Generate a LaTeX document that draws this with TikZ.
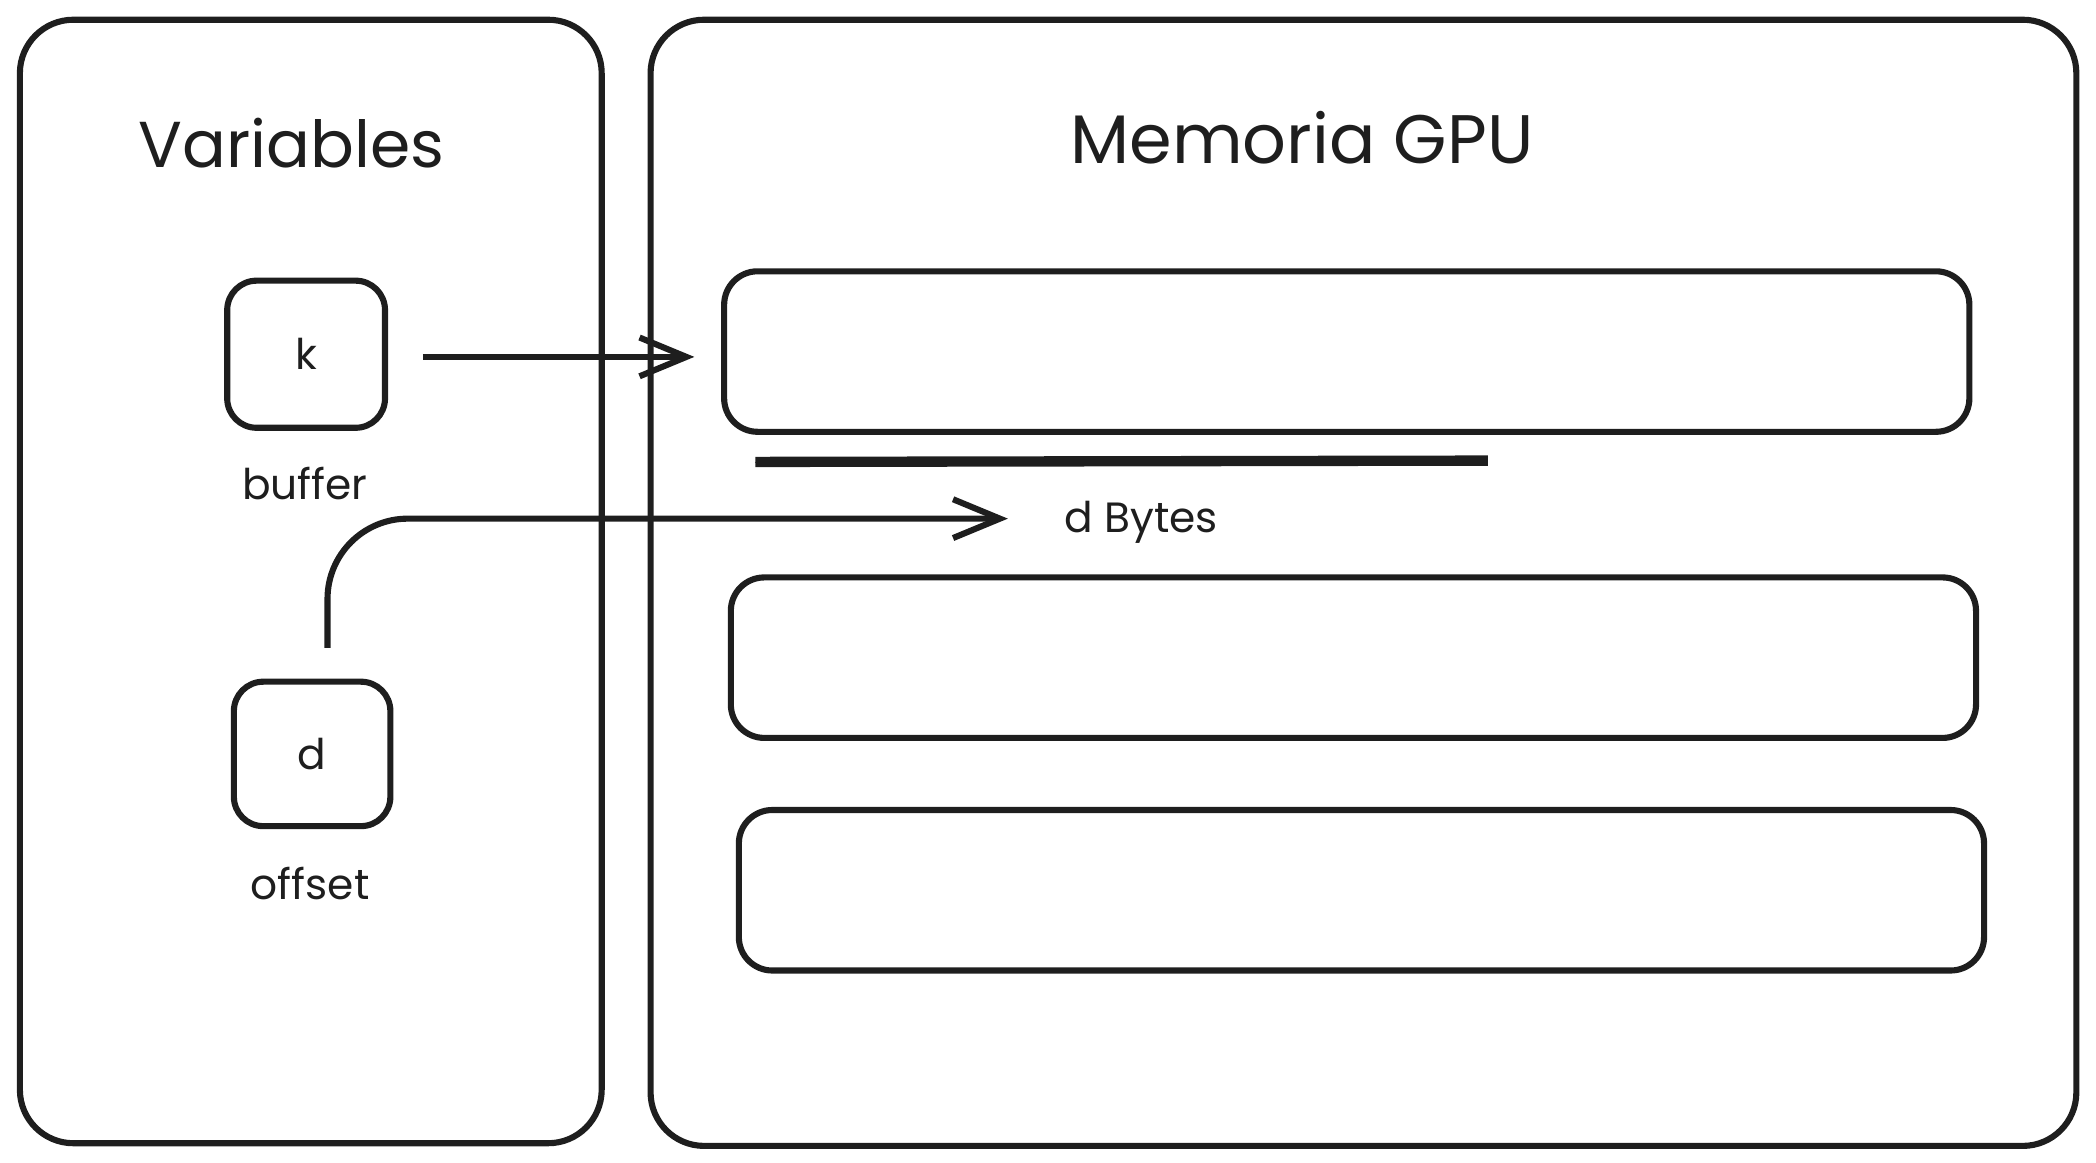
\documentclass[tikz,border=0pt]{standalone}
\usepackage{fontspec}
\setmainfont{Poppins}
\usepackage{tikz}
\usetikzlibrary{arrows.meta}

\definecolor{ink}{HTML}{1E1E1E}
\tikzset{
  every path/.style={color=ink},
  panel/.style={draw=ink,line width=1.3pt,rounded corners=0.4cm,inner sep=0pt},
  varbox/.style={draw=ink,line width=1.3pt,rounded corners=0.22cm,minimum width=1.18cm,minimum height=1.1cm,font=\fontsize{9}{11}\selectfont},
  membox/.style={draw=ink,line width=1.3pt,rounded corners=0.25cm,minimum width=9.31cm,minimum height=1.2cm},
  heading/.style={text=ink,font=\fontsize{13.8}{17}\selectfont},
  lbl/.style={text=ink,font=\fontsize{9}{11}\selectfont},
  ptr/.style={draw=ink,line width=1.3pt,-{Straight Barb[length=0.35cm,width=0.29cm,line width=1.3pt]}}
}

\begin{document}
\begin{tikzpicture}[x=0.01cm,y=-0.01cm]
          \useasboundingbox (0,0) rectangle (1568,870);
          \node[panel,minimum width=4.35cm,minimum height=8.4cm] (vars) at (232.5,435){};
          \node[panel,minimum width=10.66cm,minimum height=8.42cm] (gpu) at (1020,436){};
          \node[heading] (vars_t) at (218,107){Variables};
          \node[heading,font=\fontsize{14.6}{17}\selectfont] (gpu_t) at (974,103){Memoria GPU};
          % variables
          \node[varbox] (k) at (229,265){k};
          \node[lbl] (k_l) at (228,362){buffer};
          \node[varbox,minimum width=1.17cm,minimum height=1.08cm] (d) at (233.5,564){d};
          \node[lbl] (d_l) at (232,661){offset};
          % memoria
          \node[membox] (m_0) at (1007.5,263){};
          \node[membox] (m_1) at (1012.5,492){};
          \node[membox] (m_2) at (1018.5,666){};
          \coordinate (s_0) at (565,344);
          \coordinate (s_1) at (1113,343);
          \draw[line width=1.3pt] (s_0) -- (s_1);
          \draw[line width=1.1pt] ([yshift=-0.035cm]s_0) -- ([yshift=-0.035cm]s_1);
          \node[lbl,anchor=west] (bytes) at (784,391){d Bytes};
          % punteros
          \draw[ptr,shorten <=0.26cm,shorten >=0.2cm] ([yshift=-0.02cm]k.east) -- ([yshift=-0.02cm]k.east -| m_0.west);
          \draw[ptr,rounded corners=0.6cm,shorten >=0.3cm] ([xshift=0.115cm,yshift=0.23cm]d.north) |- ([yshift=0.03cm]bytes.west);
        \end{tikzpicture}
\end{document}
